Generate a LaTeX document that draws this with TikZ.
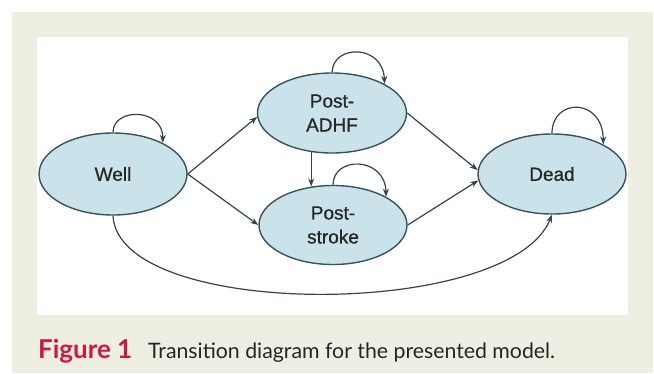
\documentclass[tikz,border=0pt]{standalone}
\usepackage{fontspec}
\usepackage{graphicx}
\setmainfont{Liberation Sans}
\newfontfamily\nodefont[FakeBold=0.8]{Liberation Sans}
\newfontfamily\capfont{Lato}
\usetikzlibrary{shapes.geometric,arrows.meta}
\definecolor{beige}{HTML}{EFEEE3}
\definecolor{nodefill}{HTML}{CAE3EA}
\definecolor{nodeline}{HTML}{3A5260}
\definecolor{edgecol}{HTML}{34444F}
\definecolor{capred}{HTML}{D0173F}
\definecolor{txt}{HTML}{262626}
\tikzset{
  state/.style={ellipse, draw=nodeline, line width=1.4pt, fill=nodefill, inner sep=0pt,
    text=txt, font=\nodefont\fontsize{19}{24}\selectfont, align=center},
  edge/.style={draw=edgecol, line width=1.2pt, -{Stealth[length=8pt,width=6pt]}},
}
\begin{document}
\begin{tikzpicture}[x=1pt,y=-1pt]
\useasboundingbox (0,0) rectangle (654,373);
\fill[beige] (12,12) rectangle (653,373);
\fill[white] (37,37) rectangle (628,315);

\node[state, minimum width=148pt, minimum height=82pt] (well) at (113,174) {Well};
\node[state, minimum width=149pt, minimum height=80pt] (adhf) at (332,113) {Post-\\ADHF};
\node[state, minimum width=148pt, minimum height=79pt] (stroke) at (333,225) {Post-\\stroke};
\node[state, minimum width=148pt, minimum height=80pt] (dead) at (552,174) {Dead};

% self loops
\draw[edge] (well.north) .. controls (113,107.5) and (163,107.5) .. (well.32);
\draw[edge] (adhf.north) .. controls (333,44) and (383,44) .. (adhf.29);
\draw[edge] (stroke.north) .. controls (333,156) and (385,156) .. (stroke.28);
\draw[edge] (dead.north) .. controls (552,97.5) and (603,97.5) .. (dead.30);

% transitions
\draw[edge] (well.east) -- (adhf.183);
\draw[edge] (well.east) -- (stroke.west);
\draw[edge] (adhf.242.5) -- (adhf.242.5 |- stroke.119.3);
\draw[edge] (adhf.east) -- (dead.177);
\draw[edge] (stroke.east) -- (dead.185);
\draw[edge] (well.south) .. controls (118,320) and (510,320) .. (dead.south);

% caption
\node[anchor=base west, inner sep=0pt, text=capred] (figlab) at (38,358)
  {\resizebox{94pt}{!}{\capfont\bfseries Figure 1}};
\node[anchor=base west, inner sep=0pt, text=txt] (captext) at (148,358)
  {\resizebox{407pt}{!}{\capfont Transition diagram for the presented model.}};
\end{tikzpicture}
\end{document}
